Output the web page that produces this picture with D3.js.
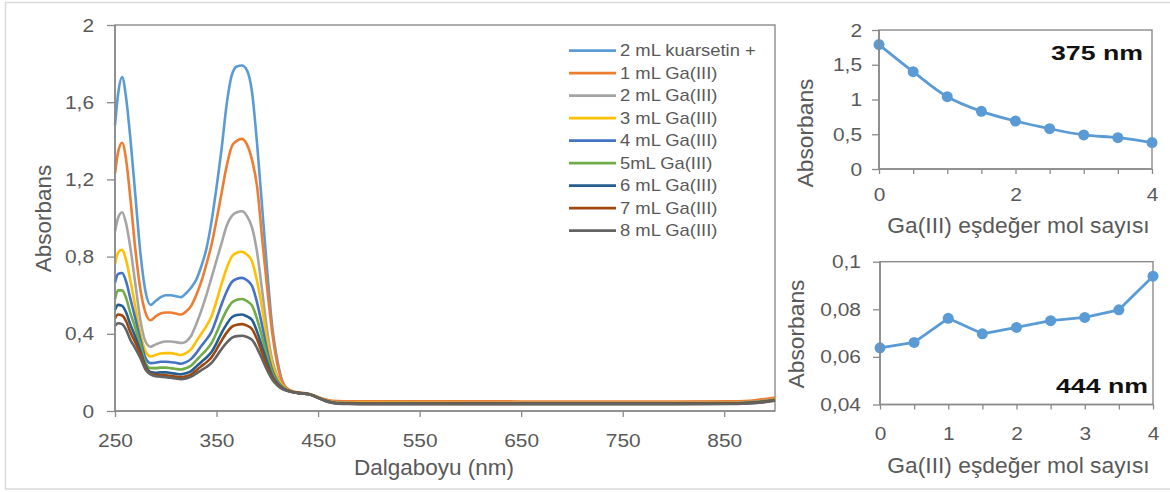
<!DOCTYPE html>
<html><head><meta charset="utf-8">
<script src="https://cdn.jsdelivr.net/npm/d3@7/dist/d3.min.js"></script>
<style>
html,body{margin:0;padding:0;background:#fff;}
svg{display:block;font-family:"Liberation Sans",Arial,sans-serif;}
</style></head>
<body>
<svg id="chart" width="1170" height="492"></svg>
<script>
// ---------------- DATA ----------------
const wavelengths = [250,253,257,261,265,270,275,280,285,290,295,300,305,310,315,320,325,330,335,340,345,350,355,360,365,370,375,380,385,390,395,400,405,410,415,420,425,430,435,440,445,450,455,460,465,470,480,500,600,700,800,860,870,880,890,900];

const seriesNames = ["2 mL kuarsetin +","1 mL Ga(III)","2 mL Ga(III)","3 mL Ga(III)","4 mL Ga(III)","5mL Ga(III)","6 mL Ga(III)","7 mL Ga(III)","8 mL Ga(III)"];
const seriesColors = ["#5B9BD5","#ED7D31","#A5A5A5","#FFC000","#4472C4","#70AD47","#255E91","#9E480E","#636363"];

const absQuercetin = [1.48,1.64,1.73,1.62,1.42,1.12,0.82,0.62,0.55,0.57,0.59,0.60,0.60,0.595,0.59,0.61,0.64,0.68,0.75,0.84,0.98,1.16,1.36,1.59,1.74,1.785,1.79,1.765,1.65,1.38,1.05,0.72,0.43,0.26,0.15,0.11,
  0.100,0.095,0.092,0.088,0.080,0.070,0.060,0.053,0.048,0.046,0.045,0.045,0.045,0.044,0.044,0.045,0.047,0.051,0.056,0.064];
const absGa1 = [1.23,1.34,1.39,1.30,1.11,0.84,0.63,0.51,0.47,0.49,0.505,0.51,0.51,0.505,0.50,0.515,0.545,0.60,0.67,0.76,0.86,0.99,1.13,1.27,1.37,1.40,1.41,1.38,1.30,1.16,0.89,0.63,0.40,0.24,0.15,0.115,
  0.102,0.097,0.094,0.090,0.082,0.073,0.063,0.057,0.053,0.051,0.050,0.050,0.050,0.049,0.049,0.050,0.052,0.056,0.062,0.070];
const absGa2 = [0.93,1.00,1.03,0.97,0.85,0.66,0.47,0.36,0.333,0.345,0.355,0.36,0.36,0.357,0.352,0.36,0.39,0.45,0.52,0.60,0.69,0.78,0.87,0.96,1.01,1.03,1.035,1.01,0.95,0.82,0.62,0.41,0.26,0.18,0.13,0.11,
  0.100,0.095,0.092,0.088,0.080,0.070,0.060,0.052,0.046,0.043,0.042,0.042,0.042,0.042,0.042,0.043,0.045,0.048,0.053,0.060];
const absGa3 = [0.76,0.82,0.835,0.78,0.68,0.54,0.40,0.31,0.282,0.29,0.298,0.30,0.30,0.295,0.29,0.30,0.32,0.36,0.40,0.44,0.49,0.57,0.66,0.74,0.80,0.82,0.825,0.81,0.775,0.67,0.53,0.36,0.24,0.17,0.13,0.11,
  0.100,0.095,0.092,0.088,0.080,0.070,0.060,0.052,0.046,0.043,0.042,0.042,0.041,0.041,0.041,0.042,0.044,0.047,0.052,0.059];
const absGa4 = [0.665,0.71,0.715,0.67,0.585,0.48,0.37,0.275,0.248,0.25,0.255,0.255,0.253,0.25,0.245,0.253,0.27,0.30,0.337,0.37,0.41,0.478,0.553,0.619,0.668,0.685,0.69,0.677,0.648,0.56,0.44,0.31,0.21,0.155,0.125,0.108,
  0.099,0.094,0.091,0.088,0.080,0.069,0.059,0.051,0.045,0.042,0.041,0.040,0.040,0.040,0.040,0.041,0.043,0.046,0.051,0.058];
const absGa5 = [0.58,0.625,0.625,0.585,0.51,0.43,0.34,0.25,0.222,0.222,0.225,0.225,0.222,0.218,0.215,0.222,0.235,0.262,0.29,0.317,0.352,0.406,0.468,0.522,0.562,0.576,0.58,0.569,0.546,0.475,0.38,0.28,0.195,0.148,0.12,0.107,
  0.099,0.094,0.091,0.088,0.080,0.069,0.059,0.050,0.044,0.041,0.040,0.040,0.039,0.039,0.039,0.040,0.042,0.045,0.050,0.057];
const absGa6 = [0.525,0.55,0.545,0.51,0.45,0.385,0.31,0.235,0.202,0.198,0.20,0.20,0.197,0.193,0.19,0.196,0.207,0.23,0.254,0.277,0.306,0.352,0.405,0.45,0.485,0.497,0.50,0.49,0.471,0.41,0.33,0.25,0.18,0.142,0.118,0.106,
  0.098,0.094,0.091,0.088,0.080,0.068,0.058,0.049,0.043,0.040,0.039,0.038,0.038,0.038,0.038,0.039,0.041,0.044,0.049,0.056];
const absGa7 = [0.48,0.50,0.495,0.465,0.41,0.355,0.295,0.225,0.195,0.187,0.186,0.185,0.182,0.178,0.175,0.18,0.19,0.21,0.232,0.252,0.278,0.319,0.365,0.406,0.436,0.447,0.45,0.442,0.424,0.37,0.30,0.23,0.172,0.138,0.116,0.105,
  0.098,0.094,0.091,0.088,0.080,0.068,0.057,0.048,0.042,0.039,0.038,0.037,0.037,0.037,0.037,0.038,0.040,0.043,0.048,0.055];
const absGa8 = [0.44,0.455,0.45,0.42,0.37,0.325,0.275,0.215,0.19,0.18,0.178,0.175,0.172,0.168,0.165,0.169,0.178,0.194,0.211,0.228,0.249,0.283,0.321,0.354,0.379,0.388,0.39,0.383,0.369,0.325,0.268,0.21,0.162,0.132,0.113,0.104,
  0.097,0.093,0.091,0.088,0.080,0.068,0.057,0.047,0.041,0.038,0.036,0.035,0.035,0.035,0.035,0.036,0.038,0.041,0.046,0.053];
const seriesValues = [absQuercetin,absGa1,absGa2,absGa3,absGa4,absGa5,absGa6,absGa7,absGa8];

const mainXTicks = [250,350,450,550,650,750,850];
const mainYTicks = [0,0.4,0.8,1.2,1.6,2];

const equivalents = [0,0.5,1,1.5,2,2.5,3,3.5,4];
const abs375 = [1.79,1.40,1.04,0.83,0.69,0.58,0.49,0.45,0.38];
const abs444 = [0.0638,0.0661,0.0762,0.0697,0.0724,0.0752,0.0766,0.0798,0.0939];
const smallXTicks = [0,0.5,1,1.5,2,2.5,3,3.5,4];
const topXLabels = [0,2,4];
const bottomXLabels = [0,1,2,3,4];
const topYTicks = [0,0.5,1,1.5,2];
const bottomYTicks = [0.04,0.06,0.08,0.1];

// ---------------- DRAW ----------------
const svg = d3.select("#chart");
const TXT = "#595959", AX = "#8a8a8a";
const comma = d => String(d).replace(".", ",");
const SX = 1.1;

function styleAxis(g, sx, fs) {
  g.select(".domain").remove();
  g.selectAll(".tick line").attr("stroke", AX).attr("stroke-width", 1.3);
  g.selectAll(".tick text").attr("fill", TXT).attr("font-size", fs).each(function(){
    const t = d3.select(this); const x = +t.attr("x") || 0;
    t.attr("x", x / sx).attr("transform", `scale(${sx},1)`);
  });
  g.attr("font-family", null);
}
function frame(x0,y0,x1,y1){
  svg.append("rect").attr("x",x0).attr("y",y0).attr("width",x1-x0).attr("height",y1-y0)
    .attr("fill","none").attr("stroke",AX).attr("stroke-width",1.4);
}
function title(text, x, y, size, rotate, anchor) {
  const t = svg.append("text").text(text).attr("fill", TXT).attr("font-size", size)
    .attr("text-anchor", anchor || "middle");
  if (rotate) t.attr("transform", `translate(${x},${y}) rotate(-90)`);
  else t.attr("x", x).attr("y", y);
  return t;
}

// outer border
svg.append("rect").attr("x",5.5).attr("y",2.5).attr("width",1180).attr("height",486.5)
  .attr("fill","#fff").attr("stroke","#d9d9d9").attr("stroke-width",1.5);

// ---- main chart ----
const x = d3.scaleLinear().domain([250,900]).range([115,775]);
const y = d3.scaleLinear().domain([0,2]).range([411,25]);
frame(115,25,775,411);

const gx = svg.append("g").attr("transform","translate(0,411)")
  .call(d3.axisBottom(x).tickValues(mainXTicks).tickSize(6).tickSizeOuter(0).tickPadding(17));
styleAxis(gx, SX, 19);
const gy = svg.append("g").attr("transform","translate(115,0)")
  .call(d3.axisLeft(y).tickValues(mainYTicks).tickSize(8).tickSizeOuter(0).tickPadding(13).tickFormat(comma));
styleAxis(gy, SX, 19);

const line = d3.line().x((d,i)=>x(wavelengths[i])).y(d=>y(d)).curve(d3.curveMonotoneX);
svg.append("g").selectAll("path").data(seriesValues).join("path")
  .attr("d", line).attr("fill","none").attr("stroke",(d,i)=>seriesColors[i])
  .attr("stroke-width",2.6).attr("stroke-linejoin","round");

// axis lines over the curves
svg.append("line").attr("x1",115).attr("x2",115).attr("y1",25).attr("y2",411).attr("stroke",AX).attr("stroke-width",1.6);
svg.append("line").attr("x1",115).attr("x2",775).attr("y1",411).attr("y2",411).attr("stroke",AX).attr("stroke-width",1.6);

title("Dalgaboyu (nm)", 434, 475, 22.5);
title("Absorbans", 51, 218.5, 22.5, true);

// legend
const leg = svg.append("g");
seriesNames.forEach((name,i)=>{
  const yy = 50.7 + i*22.5;
  leg.append("line").attr("x1",569).attr("x2",616).attr("y1",yy).attr("y2",yy)
    .attr("stroke",seriesColors[i]).attr("stroke-width",2.8);
  leg.append("text").text(name).attr("x",620/1.15).attr("y",yy+5.6)
    .attr("transform","scale(1.15,1)").attr("font-size",16).attr("fill",TXT);
});

// ---- top right chart ----
const x2 = d3.scaleLinear().domain([0,4]).range([879,1152]);
const y2 = d3.scaleLinear().domain([0,2]).range([169,30]);
frame(879,30,1152,169);
const gx2 = svg.append("g").attr("transform","translate(0,169)")
  .call(d3.axisBottom(x2).tickValues(smallXTicks).tickSize(5).tickSizeOuter(0).tickPadding(14)
    .tickFormat(d => topXLabels.includes(d) ? comma(d) : ""));
styleAxis(gx2, SX, 19);
const gy2 = svg.append("g").attr("transform","translate(879,0)")
  .call(d3.axisLeft(y2).tickValues(topYTicks).tickSize(7).tickSizeOuter(0).tickPadding(10).tickFormat(comma));
styleAxis(gy2, SX, 19);
svg.append("path").datum(abs375)
  .attr("d", d3.line().x((d,i)=>x2(equivalents[i])).y(d=>y2(d)).curve(d3.curveCatmullRom.alpha(0.5)))
  .attr("fill","none").attr("stroke","#5B9BD5").attr("stroke-width",2.8);
svg.append("g").selectAll("circle").data(abs375).join("circle")
  .attr("cx",(d,i)=>x2(equivalents[i])).attr("cy",d=>y2(d)).attr("r",5.5).attr("fill","#5B9BD5");
svg.append("line").attr("x1",879).attr("x2",879).attr("y1",30).attr("y2",169).attr("stroke",AX).attr("stroke-width",1.6);
svg.append("line").attr("x1",879).attr("x2",1152).attr("y1",169).attr("y2",169).attr("stroke",AX).attr("stroke-width",1.6);
svg.append("text").text("375 nm").attr("x",1143).attr("y",60).attr("text-anchor","end")
  .attr("font-size",21).attr("font-weight","bold").attr("fill","#111")
  .attr("textLength",92).attr("lengthAdjust","spacingAndGlyphs");
title("Ga(III) eşdeğer mol sayısı", 1018.5, 233, 22.8);
title("Absorbans", 813, 133, 22.8, true);

// ---- bottom right chart ----
const x3 = d3.scaleLinear().domain([0,4]).range([880,1153]);
const y3 = d3.scaleLinear().domain([0.04,0.1]).range([404.5,261.7]);
frame(880,261.7,1153,404.5);
const gx3 = svg.append("g").attr("transform","translate(0,404.5)")
  .call(d3.axisBottom(x3).tickValues(smallXTicks).tickSize(5).tickSizeOuter(0).tickPadding(17)
    .tickFormat(d => bottomXLabels.includes(d) ? comma(d) : ""));
styleAxis(gx3, SX, 19);
const gy3 = svg.append("g").attr("transform","translate(880,0)")
  .call(d3.axisLeft(y3).tickValues(bottomYTicks).tickSize(7).tickSizeOuter(0).tickPadding(12).tickFormat(comma));
styleAxis(gy3, SX, 19);
svg.append("path").datum(abs444)
  .attr("d", d3.line().x((d,i)=>x3(equivalents[i])).y(d=>y3(d)))
  .attr("fill","none").attr("stroke","#5B9BD5").attr("stroke-width",2.8).attr("stroke-linejoin","round");
svg.append("g").selectAll("circle").data(abs444).join("circle")
  .attr("cx",(d,i)=>x3(equivalents[i])).attr("cy",d=>y3(d)).attr("r",5.5).attr("fill","#5B9BD5");
svg.append("line").attr("x1",880).attr("x2",880).attr("y1",261.7).attr("y2",404.5).attr("stroke",AX).attr("stroke-width",1.6);
svg.append("line").attr("x1",880).attr("x2",1153).attr("y1",404.5).attr("y2",404.5).attr("stroke",AX).attr("stroke-width",1.6);
svg.append("text").text("444 nm").attr("x",1148).attr("y",393).attr("text-anchor","end")
  .attr("font-size",21).attr("font-weight","bold").attr("fill","#111")
  .attr("textLength",92).attr("lengthAdjust","spacingAndGlyphs");
title("Ga(III) eşdeğer mol sayısı", 1018.5, 473, 22.8);
title("Absorbans", 804, 334, 22.8, true);
</script>
</body></html>
